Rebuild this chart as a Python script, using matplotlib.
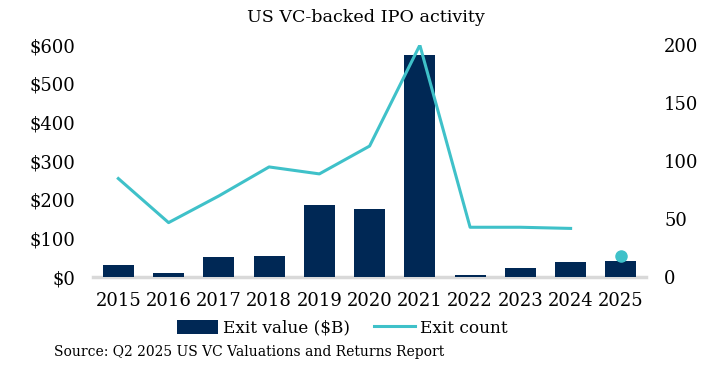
import numpy as np
import matplotlib.pyplot as plt
from matplotlib.ticker import FuncFormatter

# дані
years = ["2015", "2016", "2017", "2018", "2019", "2020", "2021", "2022", "2023", "2024", "2025"]
exit_value = [31, 10, 52, 54, 186, 176, 574, 5, 23, 39, 41]
exit_count = [85, 47, 70, 95, 89, 113, 200, 43, 43, 42]
count_2025 = 18

navy = "#002855"
teal = "#3FC1C9"

plt.rcParams['font.family'] = ['DejaVu Serif']

fig = plt.figure(figsize=(7.06, 3.73), dpi=100)
ax = fig.add_axes([0.132, 0.257, 0.783, 0.622])
ax2 = ax.twinx()

x = np.arange(len(years))
ax.bar(x, exit_value, width=0.62, color=navy, label="Exit value ($B)", zorder=2)
ax2.plot(x[:len(exit_count)], exit_count, color=teal, lw=2.2, label="Exit count")
ax2.plot(x[-1], count_2025, 'o', color=teal, markersize=8)

ax.set_xlim(-0.5, len(years) - 0.5)
ax.set_ylim(0, 600)
ax2.set_ylim(0, 200)
ax.set_yticks(range(0, 601, 100))
ax2.set_yticks(range(0, 201, 50))
ax.yaxis.set_major_formatter(FuncFormatter(lambda v, p: f"${v:.0f}"))
ax.set_xticks(x)
ax.set_xticklabels(years)

for a in (ax, ax2):
    for s in a.spines.values():
        s.set_visible(False)
    a.tick_params(length=0, labelsize=13, colors="black")
ax.tick_params(axis='y', pad=13)
ax2.tick_params(axis='y', pad=13)
ax.tick_params(axis='x', pad=11)
ax.axhline(0, color="#D9D9D9", lw=2.5, zorder=1, clip_on=False)

fig.text(0.518, 0.953, "US VC-backed IPO activity", ha='center', va='center', fontsize=12.6)

h1, l1 = ax.get_legend_handles_labels()
h2, l2 = ax2.get_legend_handles_labels()
fig.legend(h1 + h2, l1 + l2, loc='center', bbox_to_anchor=(0.485, 0.12), ncol=2,
           frameon=False, fontsize=12.2, handlelength=2.4, handleheight=0.9,
           columnspacing=1.4, handletextpad=0.3)

fig.text(0.077, 0.055, "Source: Q2 2025 US VC Valuations and Returns Report",
         ha='left', va='center', fontsize=10)

fig.savefig("out.png", dpi=100)
